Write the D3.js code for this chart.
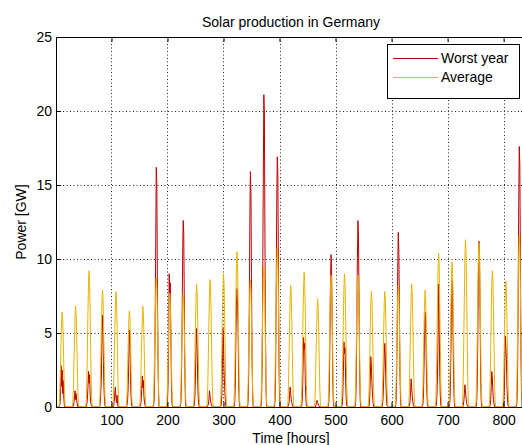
<!DOCTYPE html>
<html>
<head>
<meta charset="utf-8">
<script src="https://cdn.jsdelivr.net/npm/d3@7"></script>
<style>
  body { margin: 0; background: #fff; }
  svg { display: block; font-family: "Liberation Sans", Arial, sans-serif; }
</style>
</head>
<body>
<svg width="522" height="445"></svg>
<script>
// hourly values, one array per day, for the daylight hours 7..17 (night is 0)
var firstHour = 7;
var hoursPerDay = 24;

var worstDays = [
  [0,0.2,0.8,2.8,1.4,2.5,0.9,1.8,0.6,0.1,0],
  [0,0.1,0.3,0.6,1.1,0.5,0.9,0.4,0.2,0,0],
  [0,0.2,0.5,1.3,2.4,1.6,2.2,0.8,0.3,0.1,0],
  [0,0.3,1.0,2.1,4.9,6.2,5.0,2.2,0.9,0.2,0],
  [0,0.1,0.4,1.0,1.35,0.6,0.3,0.8,0.2,0,0],
  [0,0.2,0.6,1.5,3.4,5.2,4.6,2.0,0.7,0.1,0],
  [0,0.1,0.4,1.2,2.1,1.3,1.8,0.7,0.3,0.1,0],
  [0,0.4,1.9,5.8,10.8,16.2,15.0,8.3,3.5,0.9,0],
  [0,0.3,1.5,4.2,9.0,7.6,8.4,5.0,1.8,0.3,0],
  [0,0.4,1.8,5.2,9.9,12.6,11.8,7.2,2.4,0.5,0],
  [0,0.2,0.7,2.3,4.4,5.3,3.9,1.6,0.6,0.1,0],
  [0,0.1,0.2,0.5,1.1,0.7,0.4,0.2,0.1,0,0],
  [0,0.2,0.8,2.6,5.3,4.3,2.4,1.4,0.6,0.1,0],
  [0,0.3,1.4,4.3,6.8,8.0,7.1,5.6,2.0,0.4,0],
  [0,0.5,2.2,6.4,12.3,15.9,14.5,8.6,3.1,0.8,0],
  [0,0.6,2.8,8.6,15.2,21.1,19.8,11.4,4.6,1.1,0],
  [0,0.5,2.4,7.2,13.4,16.9,15.8,9.6,3.3,0.7,0],
  [0,0.1,0.3,0.8,1.35,0.9,0.5,0.3,0.1,0,0],
  [0,0.2,0.9,2.5,4.7,3.9,4.3,1.7,0.6,0.1,0],
  [0,0,0.1,0.3,0.45,0.3,0.2,0.1,0,0,0],
  [0,0.3,1.6,4.6,8.4,10.3,9.2,5.9,2.1,0.4,0],
  [0,0.2,0.8,2.4,4.4,3.6,4.0,1.9,0.6,0.1,0],
  [0,0.4,1.9,5.6,10.1,12.6,11.5,7.0,2.6,0.5,0],
  [0,0.1,0.6,1.8,3.4,2.7,1.6,0.8,0.3,0,0],
  [0,0.2,0.7,2.1,3.5,4.3,3.1,1.5,0.5,0.1,0],
  [0,0.4,1.7,5.0,9.3,11.8,10.6,6.6,2.3,0.5,0],
  [0,0.1,0.4,1.1,1.9,1.3,0.7,0.4,0.1,0,0],
  [0,0.2,0.9,2.8,5.2,6.4,5.5,3.0,1.0,0.2,0],
  [0,0.2,0.7,2.1,4.6,8.3,6.2,2.4,0.8,0.1,0],
  [0,0.3,1.3,3.9,7.2,8.6,7.7,4.4,1.5,0.3,0],
  [0,0.1,0.4,0.9,1.5,1.1,0.6,0.3,0.1,0,0],
  [0,0.4,1.7,4.9,8.9,11.2,10.4,6.4,2.2,0.5,0],
  [0,0.1,0.5,1.4,2.4,1.9,1.0,0.5,0.2,0,0],
  [0,0.2,0.8,2.5,4.8,4.1,3.2,1.4,0.5,0.1,0],
  [0,0.5,2.5,7.4,13.6,17.6,16.3,9.9,3.5,0.8,0]
];

var avgDays = [
  [0.2,1.2,2.7,4.4,5.8,6.4,5.9,4.5,2.7,1.0,0.2],
  [0.3,1.2,2.9,4.6,6.1,6.8,6.2,4.7,2.8,1.1,0.2],
  [0.4,1.7,3.9,6.3,8.3,9.2,8.5,6.4,3.8,1.5,0.3],
  [0.3,1.4,3.3,5.4,7.1,7.9,7.3,5.5,3.3,1.3,0.2],
  [0.3,1.4,3.3,5.3,7.0,7.8,7.2,5.4,3.2,1.2,0.2],
  [0.2,1.2,2.7,4.4,5.9,6.5,6.0,4.5,2.7,1.0,0.2],
  [0.3,1.2,2.9,4.6,6.1,6.8,6.3,4.8,2.9,1.1,0.2],
  [0.3,1.6,3.7,5.9,7.8,8.7,8.0,6.1,3.6,1.4,0.3],
  [0.3,1.4,3.2,5.2,6.9,7.7,7.1,5.4,3.2,1.2,0.2],
  [0.3,1.4,3.2,5.2,6.8,7.6,7.0,5.3,3.2,1.2,0.2],
  [0.3,1.5,3.5,5.6,7.5,8.3,7.6,5.8,3.5,1.3,0.3],
  [0.3,1.5,3.6,5.8,7.7,8.6,7.9,6.0,3.6,1.4,0.3],
  [0.4,1.6,3.8,6.1,8.1,9.0,8.3,6.3,3.8,1.4,0.3],
  [0.4,1.9,4.4,7.1,9.4,10.5,9.7,7.3,4.4,1.7,0.3],
  [0.3,1.6,3.7,5.9,7.8,8.6,7.8,5.9,3.5,1.3,0.3],
  [0.4,1.7,4.0,6.5,8.6,9.5,8.7,6.6,4.0,1.5,0.3],
  [0.4,1.9,4.5,7.3,9.6,10.7,9.8,7.5,4.5,1.7,0.4],
  [0.3,1.5,3.4,5.6,7.4,8.2,7.5,5.7,3.4,1.3,0.3],
  [0.4,1.6,3.8,6.2,8.2,9.1,8.4,6.4,3.8,1.5,0.3],
  [0.3,1.3,3.1,5.0,6.6,7.3,6.7,5.1,3.1,1.2,0.2],
  [0.3,1.6,3.7,6.1,8.0,8.9,8.2,6.2,3.7,1.4,0.3],
  [0.4,1.6,3.8,6.1,8.1,9.0,8.3,6.3,3.8,1.4,0.3],
  [0.3,1.6,3.8,6.0,8.0,8.9,8.1,6.2,3.7,1.4,0.3],
  [0.3,1.4,3.3,5.3,7.0,7.8,7.2,5.4,3.3,1.2,0.2],
  [0.3,1.4,3.2,5.3,7.1,7.8,7.1,5.3,3.2,1.2,0.2],
  [0.3,1.5,3.4,5.6,7.4,8.2,7.6,5.7,3.4,1.3,0.3],
  [0.3,1.5,3.5,5.7,7.5,8.3,7.6,5.8,3.5,1.3,0.3],
  [0.3,1.4,3.3,5.4,7.1,7.9,7.2,5.5,3.3,1.2,0.2],
  [0.4,1.9,4.4,7.1,9.3,10.4,9.6,7.2,4.3,1.6,0.3],
  [0.4,1.8,4.1,6.7,8.8,9.8,9.0,6.8,4.1,1.6,0.3],
  [0.4,2.0,4.7,7.7,10.2,11.3,10.4,7.9,4.7,1.8,0.4],
  [0.4,2.0,4.7,7.6,10.0,11.1,10.2,7.7,4.6,1.7,0.4],
  [0.4,1.7,3.9,6.3,8.3,9.2,8.4,6.4,3.8,1.5,0.3],
  [0.3,1.5,3.6,5.8,7.6,8.5,7.8,5.9,3.5,1.3,0.3],
  [0.4,2.1,4.9,7.9,10.4,11.6,10.7,8.1,4.8,1.8,0.4]
];

var seriesNames = ["Worst year", "Average"];
var seriesColors = ["#c00000", "#e8b400"];
var xTicks = [100, 200, 300, 400, 500, 600, 700, 800];
var yTicks = [0, 5, 10, 15, 20, 25];

// hourly series, hour index 1..840
function toHourly(days) {
  var out = [];
  days.forEach(function(day, d) {
    for (var h = 1; h <= hoursPerDay; h++) {
      var i = h - firstHour;
      out.push({t: d * hoursPerDay + h, v: (i >= 0 && i < day.length) ? day[i] : 0});
    }
  });
  return out;
}
var worst = toHourly(worstDays);
var average = toHourly(avgDays);

var svg = d3.select("svg");
var plotLeft = 56, plotTop = 37, plotRight = 526, plotBottom = 407;

var x = d3.scaleLinear().domain([1, 840]).range([plotLeft, plotRight]);
var y = d3.scaleLinear().domain([0, 25]).range([plotBottom, plotTop]);

svg.append("defs").append("clipPath").attr("id", "plotclip")
  .append("rect").attr("x", plotLeft).attr("y", plotTop)
  .attr("width", plotRight - plotLeft).attr("height", plotBottom - plotTop);

// grid (dotted, MATLAB style)
var grid = svg.append("g").attr("stroke", "#222").attr("stroke-width", 1)
  .attr("stroke-dasharray", "1,2.5");
grid.selectAll(".gx").data(xTicks).enter().append("line")
  .attr("x1", function(d) { return Math.round(x(d)) + 0.5; })
  .attr("x2", function(d) { return Math.round(x(d)) + 0.5; })
  .attr("y1", plotTop).attr("y2", plotBottom);
grid.selectAll(".gy").data(yTicks.slice(1, -1)).enter().append("line")
  .attr("y1", function(d) { return Math.round(y(d)) + 0.5; })
  .attr("y2", function(d) { return Math.round(y(d)) + 0.5; })
  .attr("x1", plotLeft).attr("x2", plotRight);

var line = d3.line()
  .x(function(d) { return x(d.t); })
  .y(function(d) { return y(d.v); });

var plot = svg.append("g").attr("clip-path", "url(#plotclip)");
plot.append("path").datum(worst)
  .attr("fill", "none").attr("stroke", seriesColors[0]).attr("stroke-width", 1)
  .attr("d", line);
plot.append("path").datum(average)
  .attr("fill", "none").attr("stroke", seriesColors[1]).attr("stroke-width", 1)
  .attr("d", line);

// axes, ticks pointing inwards
var fontSize = "14px";
var xAxis = svg.append("g").attr("transform", "translate(0," + plotBottom + ")")
  .call(d3.axisBottom(x).tickValues(xTicks).tickSize(-5).tickSizeOuter(0).tickPadding(8));
var yAxis = svg.append("g").attr("transform", "translate(" + plotLeft + ",0)")
  .call(d3.axisLeft(y).tickValues(yTicks).tickSize(-5).tickSizeOuter(0).tickPadding(4));
var xTop = svg.append("g").attr("transform", "translate(0," + plotTop + ")")
  .call(d3.axisTop(x).tickValues(xTicks).tickSize(-5).tickSizeOuter(0).tickFormat(""));
var yRight = svg.append("g").attr("transform", "translate(" + plotRight + ",0)")
  .call(d3.axisRight(y).tickValues(yTicks).tickSize(-5).tickSizeOuter(0).tickFormat(""));

[xAxis, yAxis, xTop, yRight].forEach(function(a) {
  a.select(".domain").remove();
  a.selectAll("line").attr("stroke", "#000");
  a.selectAll("text").attr("fill", "#000").style("font-size", fontSize)
    .style("font-family", "'Liberation Sans', Arial, sans-serif");
});

svg.append("rect")
  .attr("x", plotLeft + 0.5).attr("y", plotTop + 0.5)
  .attr("width", plotRight - plotLeft).attr("height", plotBottom - plotTop)
  .attr("fill", "none").attr("stroke", "#000").attr("stroke-width", 1);

// title and labels
svg.append("text").attr("x", (plotLeft + plotRight) / 2).attr("y", 27)
  .attr("text-anchor", "middle").style("font-size", fontSize)
  .text("Solar production in Germany");
svg.append("text").attr("x", (plotLeft + plotRight) / 2).attr("y", 443)
  .attr("text-anchor", "middle").style("font-size", fontSize)
  .text("Time [hours]");
svg.append("text")
  .attr("transform", "translate(26," + ((plotTop + plotBottom) / 2) + ") rotate(-90)")
  .attr("text-anchor", "middle").style("font-size", fontSize)
  .text("Power [GW]");

// legend
var legend = svg.append("g");
legend.append("rect")
  .attr("x", 387.5).attr("y", 44.5).attr("width", 132).attr("height", 54)
  .attr("fill", "#fff").attr("stroke", "#000").attr("stroke-width", 1);
seriesNames.forEach(function(name, i) {
  var ly = 58 + i * 19;
  legend.append("line")
    .attr("x1", 393).attr("x2", 438).attr("y1", ly + 0.5).attr("y2", ly + 0.5)
    .attr("stroke", seriesColors[i]).attr("stroke-width", 1);
  legend.append("text").attr("x", 441).attr("y", ly + 4.5)
    .style("font-size", fontSize).text(name);
});
</script>
</body>
</html>
